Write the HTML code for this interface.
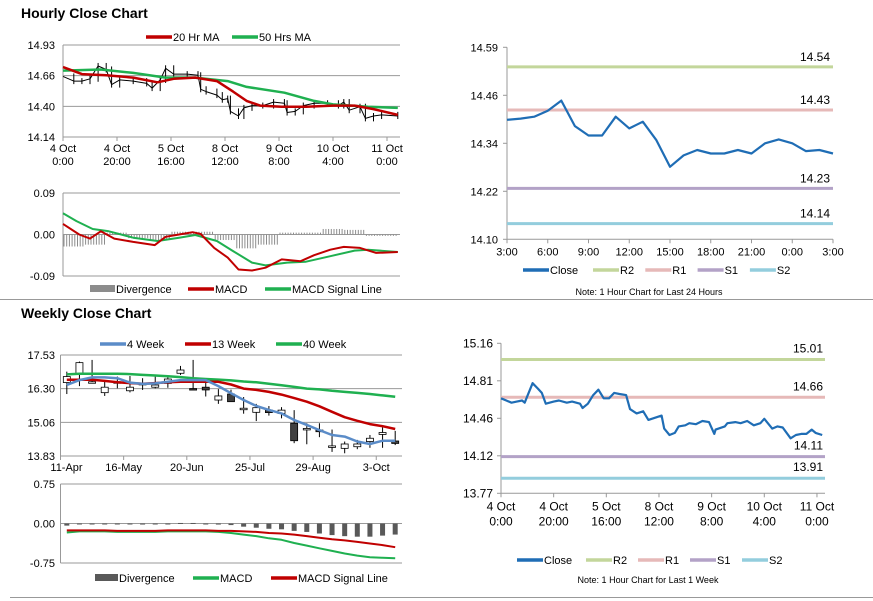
<!DOCTYPE html>
<html><head><meta charset="utf-8"><style>
html,body{margin:0;padding:0;background:#fff;}
svg{display:block;font-family:"Liberation Sans",Arial,sans-serif;}
</style></head><body>
<svg id="s" width="873" height="601" viewBox="0 0 873 601" xmlns="http://www.w3.org/2000/svg">
<text x="21" y="18" font-size="14" font-weight="bold">Hourly Close Chart</text>
<text x="21" y="318" font-size="14" font-weight="bold">Weekly Close Chart</text>
<line x1="0" y1="299.5" x2="873" y2="299.5" stroke="#999"/>
<line x1="10" y1="597.5" x2="873" y2="597.5" stroke="#999"/>
</svg>
<script>
// ---------- Hourly price chart ----------
const hTickVals=[14.93,14.6667,14.4033,14.14];
const hTickLabels=["14.93","14.66","14.40","14.14"];
const hXLabels1=["4 Oct","4 Oct","5 Oct","8 Oct","9 Oct","10 Oct","11 Oct"];
const hXLabels2=["0:00","20:00","16:00","12:00","8:00","4:00","0:00"];
const hXTickHours=[0,20,40,60,80,100,120];
const hCloseHours=[0,4,7,10,13,16,18,21,26,31,33,36,38,41,46,50,51,53,57,59,61,62,65,67,70,74,78,82,83,86,89,93,98,102,104,106,110,112,115,118,124];
const hClose=[14.66,14.62,14.62,14.64,14.75,14.72,14.59,14.63,14.62,14.60,14.56,14.63,14.73,14.68,14.68,14.67,14.55,14.53,14.50,14.46,14.47,14.36,14.32,14.39,14.41,14.41,14.44,14.43,14.35,14.36,14.41,14.43,14.43,14.41,14.44,14.37,14.40,14.30,14.32,14.33,14.32];
const hMaHours=[0,7,16,26,35,41,49,57,63,68,73,81,90,100,108,115,124];
const hMa20=[14.74,14.68,14.67,14.65,14.61,14.64,14.65,14.62,14.53,14.45,14.41,14.40,14.40,14.41,14.41,14.38,14.33];
const hMa50Hours=[0,14,26,38,49,61,68,82,93,100,113,124];
const hMa50=[14.71,14.72,14.69,14.65,14.65,14.62,14.57,14.52,14.45,14.42,14.40,14.39];
// ---------- Hourly MACD ----------
const hmTickVals=[0.09,0,-0.09];
const hmTickLabels=["0.09","0.00","-0.09"];
const hmHours=[0,6,10,14,19,26,34,38,43,48,51,56,61,65,70,75,81,88,93,99,104,110,116,124];
const hMacd=[0.023,0,-0.009,0.007,-0.009,-0.016,-0.023,-0.005,0,0.005,0.001,-0.029,-0.050,-0.076,-0.078,-0.072,-0.054,-0.058,-0.045,-0.033,-0.027,-0.029,-0.040,-0.038];
const hsHours=[0,5,11,17,26,35,43,49,57,63,70,75,83,90,99,108,113,124];
const hSignal=[0.046,0.029,0.012,0.007,-0.007,-0.014,-0.007,-0.001,-0.014,-0.036,-0.061,-0.067,-0.061,-0.059,-0.047,-0.035,-0.033,-0.038];
const hDivHours=[0,8,16,24,32,40,48,56,64,72,80,88,96,104,112,120];
const hDiv=[-0.026,-0.022,0.004,-0.008,-0.012,0.006,0.006,-0.012,-0.030,-0.022,0.004,0.004,0.012,0.010,-0.003,-0.003];
// ---------- Weekly chart ----------
const wTickVals=[17.53,16.2967,15.0633,13.83];
const wTickLabels=["17.53","16.30","15.06","13.83"];
const wXLabels=["11-Apr","16-May","20-Jun","25-Jul","29-Aug","3-Oct"];
const wOpen=[16.52,16.83,16.55,16.15,16.55,16.22,16.49,16.35,16.49,16.86,16.30,16.35,15.88,16.10,15.58,15.43,15.51,15.39,15.03,14.84,14.78,14.20,14.11,14.17,14.36,14.62,14.38];
const wClose=[16.74,17.25,16.55,16.35,16.55,16.35,16.49,16.43,16.65,16.98,16.27,16.25,16.03,15.82,15.58,15.60,15.42,15.51,14.39,14.84,14.72,14.20,14.27,14.27,14.48,14.69,14.29];
const wHigh=[16.92,17.29,17.35,16.61,16.74,16.76,16.68,16.74,16.74,17.13,17.35,16.52,16.28,16.26,15.99,15.74,15.66,15.62,15.51,15.03,15.03,14.80,14.36,14.42,14.60,14.88,14.75];
const wLow=[16.10,16.39,16.52,16.03,16.31,16.16,16.25,16.31,16.33,16.80,16.25,16.01,15.74,15.87,15.38,15.11,15.31,15.21,14.30,14.26,14.52,13.98,13.93,14.08,14.13,14.13,14.23];
const w4=[16.43,16.61,16.71,16.71,16.68,16.52,16.47,16.49,16.55,16.61,16.61,16.61,16.39,16.13,15.88,15.66,15.52,15.39,15.15,14.97,14.78,14.60,14.54,14.36,14.27,14.39,14.39];
const w13=[16.62,16.62,16.62,16.58,16.53,16.50,16.48,16.50,16.53,16.55,16.55,16.55,16.55,16.45,16.30,16.25,16.18,16.08,15.95,15.82,15.65,15.45,15.25,15.12,15.00,14.92,14.82];
const w40=[16.82,16.84,16.84,16.84,16.84,16.83,16.80,16.78,16.75,16.72,16.68,16.65,16.63,16.60,16.56,16.53,16.48,16.42,16.36,16.30,16.27,16.22,16.18,16.14,16.10,16.05,16.00];
const wmTickVals=[0.75,0,-0.75];
const wmTickLabels=["0.75","0.00","-0.75"];
const wDiv=[-0.04,-0.01,-0.01,-0.01,-0.01,-0.01,-0.02,-0.01,0.00,0.01,0.01,-0.01,-0.02,-0.03,-0.06,-0.08,-0.10,-0.11,-0.14,-0.16,-0.19,-0.22,-0.24,-0.25,-0.25,-0.23,-0.21];
const wMacd=[-0.17,-0.15,-0.15,-0.15,-0.16,-0.16,-0.16,-0.16,-0.15,-0.15,-0.15,-0.15,-0.16,-0.18,-0.21,-0.24,-0.28,-0.31,-0.37,-0.42,-0.47,-0.52,-0.57,-0.61,-0.64,-0.65,-0.66];
const wSignal=[-0.13,-0.13,-0.13,-0.13,-0.14,-0.14,-0.14,-0.14,-0.13,-0.13,-0.13,-0.13,-0.14,-0.14,-0.15,-0.16,-0.18,-0.19,-0.21,-0.24,-0.27,-0.30,-0.32,-0.35,-0.38,-0.41,-0.45];
// ---------- 24h chart ----------
const dTickVals=[14.59,14.4675,14.345,14.2225,14.10];
const dTickLabels=["14.59","14.46","14.34","14.22","14.10"];
const dXLabels=["3:00","6:00","9:00","12:00","15:00","18:00","21:00","0:00","3:00"];
const dClose=[14.405,14.408,14.413,14.428,14.454,14.389,14.365,14.365,14.413,14.383,14.400,14.353,14.285,14.314,14.328,14.319,14.319,14.328,14.319,14.345,14.355,14.345,14.325,14.328,14.319];
const dLevelNames=["R2","R1","S1","S2"];
const dLevels=[14.54,14.43,14.23,14.14];
// ---------- 1 week chart ----------
const kTickVals=[15.16,14.8125,14.465,14.1175,13.77];
const kTickLabels=["15.16","14.81","14.46","14.12","13.77"];
const kHours=[0,2,4,6,8,9,10,12,14,15.5,17,20,22,25,27,30,31,33,35,37,39,41,43,45,47.5,49,51.5,54,56,61,62,64,66,67.5,70,71.5,74,76.5,79,81,81.5,85,86,89,91,93.5,96,98.5,100,103,105,107,110,112,114,116,118,119.5,122];
const kClose=[14.65,14.63,14.61,14.62,14.63,14.61,14.67,14.79,14.74,14.70,14.60,14.62,14.63,14.61,14.62,14.60,14.56,14.60,14.68,14.73,14.65,14.65,14.70,14.69,14.68,14.55,14.51,14.53,14.45,14.49,14.37,14.31,14.33,14.39,14.40,14.42,14.41,14.44,14.43,14.32,14.36,14.39,14.42,14.43,14.42,14.44,14.40,14.42,14.46,14.37,14.39,14.38,14.28,14.31,14.32,14.32,14.36,14.33,14.31];
const kLevels=[15.01,14.66,14.11,13.91];
const kXLabels1=["4 Oct","4 Oct","5 Oct","8 Oct","9 Oct","10 Oct","11 Oct"];
const kXLabels2=["0:00","20:00","16:00","12:00","8:00","4:00","0:00"];

const svg=document.getElementById('s');
const NS="http://www.w3.org/2000/svg";
const levelColors={R2:"#c3d69b",R1:"#e6b9b8",S1:"#b3a2c7",S2:"#93cddd"};
function mk(tag,attrs,name,txt){
  const el=document.createElementNS(NS,tag);
  for(const k in attrs) el.setAttribute(k,attrs[k]);
  if(txt!==undefined) el.textContent=txt;
  
  
  svg.appendChild(el);return el;
}
function line(x1,y1,x2,y2,c,w,name){return mk('line',{x1,y1,x2,y2,stroke:c,'stroke-width':w},name);}
function text(x,y,s,name,anchor,size){return mk('text',{x,y,'font-size':size||11,'text-anchor':anchor||'start',fill:'#000'},name,s);}
function poly(xs,ys,c,w,name){let d=xs.map((x,i)=>(i?'L':'M')+x.toFixed(1)+' '+ys[i].toFixed(1)).join(' ');return mk('path',{d,fill:'none',stroke:c,'stroke-width':w,'stroke-linejoin':'round'},name);}
function legendLine(x,y,c,label,name,w){line(x,y,x+26,y,c,w||3.5,name+'-swatch');text(x+27,y+4,label,name,'start',11);}

// ===== Hourly price =====
{const L=63,R=400,T=45,B=137;
 const x=h=>L+h*2.70, y=v=>T+(14.93-v)*(B-T)/0.79;
 hTickVals.forEach((v,i)=>{line(L,y(v),R,y(v),'#999',1,'h-gridline');text(55,y(v)+4,hTickLabels[i],'h-y-tick-label','end');});
 line(L,T,L,B,'#999',1,'h-y-axis');
 hXTickHours.forEach((h,i)=>{line(x(h),B,x(h),B+4,'#999',1,'h-x-tick');text(x(h),B+15,hXLabels1[i],'h-x-label','middle');text(x(h),B+28,hXLabels2[i],'h-x-label-time','middle');});
 // hi-lo style bars along close
 for(let i=1;i<hClose.length;i++){const a=y(hClose[i-1]),b=y(hClose[i]);line(x(hCloseHours[i]),Math.min(a,b)-3,x(hCloseHours[i]),Math.max(a,b)+3,'#000',1,'h-price-bar');}
 poly(hCloseHours.map(x),hClose.map(y),'#000',1,'h-close-line');
 poly(hMa50Hours.map(x),hMa50.map(y),'#1fb050',2.5,'h-ma50-line');
 poly(hMaHours.map(x),hMa20.map(y),'#c00000',2.5,'h-ma20-line');
 legendLine(146,37,'#c00000','20 Hr MA','legend-20hr-ma');
 legendLine(232,37,'#1fb050','50 Hrs MA','legend-50hr-ma');
}
// ===== Hourly MACD =====
{const L=63,R=400;
 const x=h=>L+h*2.70, y=v=>234.5-v*461;
 hmTickVals.forEach((v,i)=>{line(L,y(v),R,y(v),'#999',1,'hm-gridline');text(55,y(v)+4,hmTickLabels[i],'hm-y-tick-label','end');});
 line(L,y(0.09),L,y(-0.09),'#999',1,'hm-y-axis');
 hDivHours.forEach((h,i)=>{const h2=i+1<hDivHours.length?hDivHours[i+1]:124;for(let t=h;t<h2;t+=1){line(x(t)+1,y(0),x(t)+1,y(hDiv[i]),'#8c8c8c',1,'hm-divergence-bar');}});
 poly(hsHours.map(x),hSignal.map(y),'#1fb050',2,'hm-signal-line');
 poly(hmHours.map(x),hMacd.map(y),'#c00000',2,'hm-macd-line');
 mk('rect',{x:90,y:285,width:25,height:7,fill:'#8c8c8c'},'legend-h-divergence-swatch');
 text(116,293,'Divergence','legend-h-divergence');
 legendLine(188,289,'#c00000','MACD','legend-h-macd');
 legendLine(265,289,'#1fb050','MACD Signal Line','legend-h-signal');
}
// ===== Weekly price =====
{const L=60.5,R=402,T=355,B=456,w=12.63;
 const x=i=>L+(i+0.5)*w, y=v=>T+(17.53-v)*(B-T)/3.70;
 wTickVals.forEach((v,i)=>{line(L,y(v),R,y(v),'#999',1,'w-gridline');text(55,y(v)+4,wTickLabels[i],'w-y-tick-label','end');});
 line(L,T,L,B,'#999',1,'w-y-axis');
 wXLabels.forEach((s,k)=>{const tx=L+k*5*w;line(tx,B,tx,B+4,'#999',1,'w-x-tick');text(k==0?tx+6:tx,B+15,s,'w-x-label','middle');});
 wOpen.forEach((o,i)=>{const c=wClose[i];line(x(i),y(wHigh[i]),x(i),y(wLow[i]),'#000',1,'w-candle-wick');
   const top=y(Math.max(o,c)),h=Math.max(1.5,Math.abs(y(o)-y(c)));
   mk('rect',{x:x(i)-3.5,y:top,width:7,height:h,fill:c>=o?'#fff':'#404040',stroke:'#000','stroke-width':0.8},'w-candle-body');});
 const idx=w4.map((_,i)=>x(i));
 poly(idx,w40.map(y),'#1fb050',2.5,'w-40week-line');
 poly(idx,w13.map(y),'#c00000',2.5,'w-13week-line');
 poly(idx,w4.map(y),'#5b8cc8',2.5,'w-4week-line');
 legendLine(100,344,'#5b8cc8','4 Week','legend-4week');
 legendLine(185,344,'#c00000','13 Week','legend-13week');
 legendLine(276,344,'#1fb050','40 Week','legend-40week');
}
// ===== Weekly MACD =====
{const L=60.5,R=402,w=12.63;
 const x=i=>L+(i+0.5)*w, y=v=>523.5-v*52.7;
 wmTickVals.forEach((v,i)=>{line(L,y(v),R,y(v),'#999',1,'wm-gridline');text(55,y(v)+4,wmTickLabels[i],'wm-y-tick-label','end');});
 line(L,y(0.75),L,y(-0.75),'#999',1,'wm-y-axis');
 wDiv.forEach((v,i)=>{const a=y(0),b=y(v);mk('rect',{x:x(i)-2.5,y:Math.min(a,b),width:5,height:Math.max(1,Math.abs(b-a)),fill:'#595959'},'wm-divergence-bar');});
 const idx=wMacd.map((_,i)=>x(i));
 poly(idx,wMacd.map(y),'#1fb050',2,'wm-macd-line');
 poly(idx,wSignal.map(y),'#c00000',2,'wm-signal-line');
 mk('rect',{x:95,y:574,width:23,height:7,fill:'#595959'},'legend-w-divergence-swatch');
 text(119,582,'Divergence','legend-w-divergence');
 legendLine(193,578,'#1fb050','MACD','legend-w-macd');
 legendLine(271,578,'#c00000','MACD Signal Line','legend-w-signal');
}
// ===== 24h chart =====
{const L=507,R=833,T=47.3,B=239.3;
 const x=h=>L+h*(R-L)/24, y=v=>T+(14.59-v)*(B-T)/0.49;
 line(L,T,L,B,'#999',1,'d-y-axis');line(L,B,R,B,'#999',1,'d-x-axis');
 dTickVals.forEach((v,i)=>{line(L-4,y(v),L,y(v),'#999',1,'d-y-tick');text(498,y(v)+4,dTickLabels[i],'d-y-tick-label','end');});
 dXLabels.forEach((s,k)=>{line(x(k*3),B,x(k*3),B+4,'#999',1,'d-x-tick');text(x(k*3),B+16,s,'d-x-label','middle');});
 dLevels.forEach((v,i)=>{line(L,y(v),R,y(v),levelColors[dLevelNames[i]],3,'d-level-'+dLevelNames[i]);text(830,y(v)-6,v.toFixed(2),'d-level-label','end',12);});
 poly(dClose.map((_,i)=>x(i)),dClose.map(y),'#1f6db5',2.2,'d-close-line');
 legendLine(523,270,'#1f6db5','Close','legend-d-close');
 dLevelNames.forEach((n,i)=>legendLine(593+i*52.3,270,levelColors[n],n,'legend-d-'+n));
 text(649,295,'Note: 1 Hour Chart for Last 24 Hours','d-note','middle',9);
}
// ===== 1 week chart =====
{const L=501,R=825,T=343.3,B=493.3;
 const x=h=>L+h*2.633, y=v=>T+(15.16-v)*(B-T)/1.39;
 line(L,T,L,B,'#999',1,'k-y-axis');line(L,B,R,B,'#999',1,'k-x-axis');
 kTickVals.forEach((v,i)=>{line(L-4,y(v),L,y(v),'#999',1,'k-y-tick');text(493,y(v)+4,kTickLabels[i],'k-y-tick-label','end',12);});
 kXLabels1.forEach((s,k)=>{const tx=x(k*20);line(tx,B,tx,B+4,'#999',1,'k-x-tick');text(tx,B+17,s,'k-x-label','middle',12);text(tx,B+32,kXLabels2[k],'k-x-label-time','middle',12);});
 kLevels.forEach((v,i)=>{line(L,y(v),R,y(v),levelColors[dLevelNames[i]],3,'k-level-'+dLevelNames[i]);text(823,y(v)-7,v.toFixed(2),'k-level-label','end',12);});
 poly(kHours.map(x),kClose.map(y),'#1f6db5',2.2,'k-close-line');
 legendLine(517,560,'#1f6db5','Close','legend-k-close');
 dLevelNames.forEach((n,i)=>legendLine(586+i*52,560,levelColors[n],n,'legend-k-'+n));
 text(648,583,'Note: 1 Hour Chart for Last 1 Week','k-note','middle',9);
}
</script>
</body></html>
